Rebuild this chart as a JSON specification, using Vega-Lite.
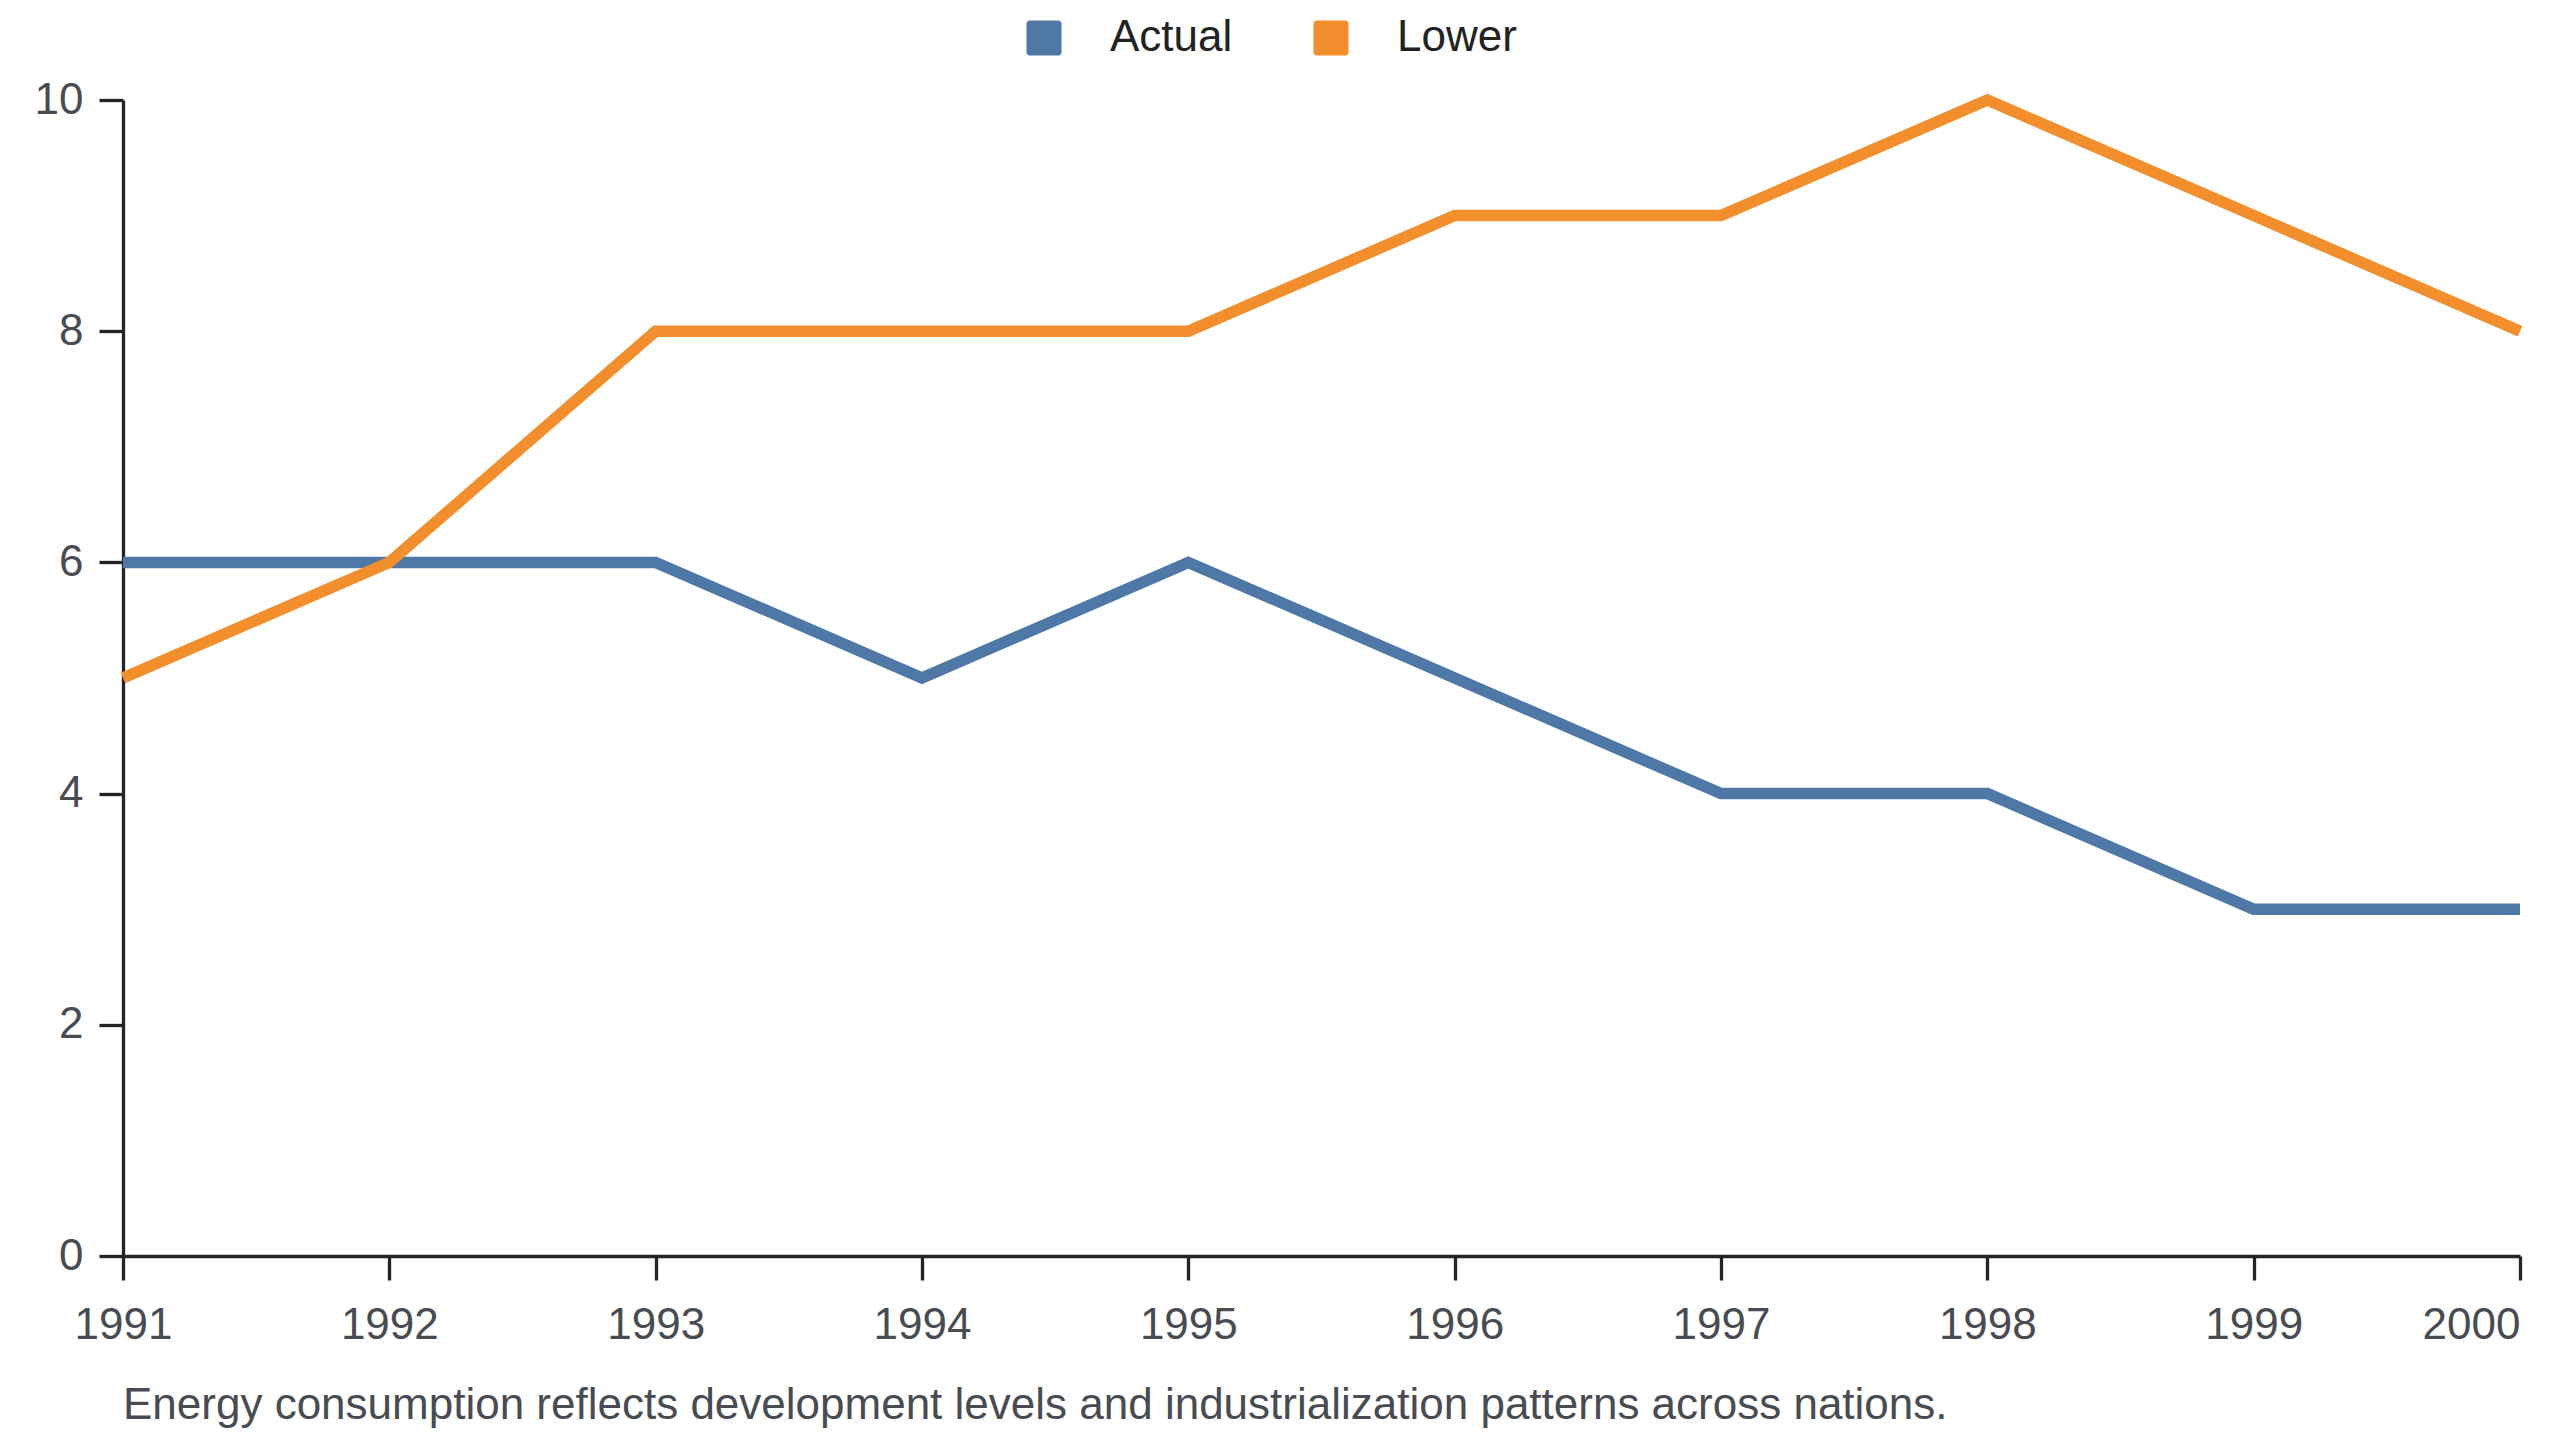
{
  "$schema": "https://vega.github.io/schema/vega-lite/v6.json",
  "width": 2397,
  "height": 1156,
  "autosize": {"type": "none"},
  "padding": {"left": 123, "top": 100, "right": 40, "bottom": 184},
  "background": "white",
  "title": {
    "text": "Energy consumption reflects development levels and industrialization patterns across nations.",
    "orient": "bottom",
    "anchor": "start",
    "frame": "group",
    "font": "Liberation Sans",
    "fontSize": 44,
    "fontWeight": "normal",
    "color": "#484c52",
    "offset": 37
  },
  "data": {
    "values": [
      {"year": 1991, "series": "Actual", "value": 6},
      {"year": 1992, "series": "Actual", "value": 6},
      {"year": 1993, "series": "Actual", "value": 6},
      {"year": 1994, "series": "Actual", "value": 5},
      {"year": 1995, "series": "Actual", "value": 6},
      {"year": 1996, "series": "Actual", "value": 5},
      {"year": 1997, "series": "Actual", "value": 4},
      {"year": 1998, "series": "Actual", "value": 4},
      {"year": 1999, "series": "Actual", "value": 3},
      {"year": 2000, "series": "Actual", "value": 3},
      {"year": 1991, "series": "Lower", "value": 5},
      {"year": 1992, "series": "Lower", "value": 6},
      {"year": 1993, "series": "Lower", "value": 8},
      {"year": 1994, "series": "Lower", "value": 8},
      {"year": 1995, "series": "Lower", "value": 8},
      {"year": 1996, "series": "Lower", "value": 9},
      {"year": 1997, "series": "Lower", "value": 9},
      {"year": 1998, "series": "Lower", "value": 10},
      {"year": 1999, "series": "Lower", "value": 9},
      {"year": 2000, "series": "Lower", "value": 8}
    ]
  },
  "mark": {"type": "line", "strokeWidth": 11.5, "strokeJoin": "miter", "strokeCap": "butt"},
  "encoding": {
    "x": {
      "field": "year",
      "type": "quantitative",
      "scale": {"domain": [1991, 2000], "nice": false, "zero": false},
      "axis": {
        "values": [1991, 1992, 1993, 1994, 1995, 1996, 1997, 1998, 1999, 2000],
        "format": "d",
        "title": null,
        "grid": false,
        "labelPadding": 23,
        "labelAlign": {"condition": {"test": "datum.value == 2000", "value": "right"}, "value": "center"}
      }
    },
    "y": {
      "field": "value",
      "type": "quantitative",
      "scale": {"domain": [0, 10], "nice": false},
      "axis": {
        "values": [0, 2, 4, 6, 8, 10],
        "title": null,
        "grid": false,
        "labelPadding": 16
      }
    },
    "color": {
      "field": "series",
      "type": "nominal",
      "scale": {"domain": ["Actual", "Lower"], "range": ["#4e79a7", "#f28e2b"]},
      "legend": {
        "title": null,
        "orient": "none",
        "direction": "horizontal",
        "legendX": 899,
        "legendY": -84,
        "padding": 0,
        "symbolType": "M-0.8,-1L0.8,-1Q1,-1,1,-0.8L1,0.8Q1,1,0.8,1L-0.8,1Q-1,1,-1,0.8L-1,-0.8Q-1,-1,-0.8,-1Z",
        "symbolSize": 1225,
        "symbolStrokeWidth": 0,
        "labelFont": "Liberation Sans",
        "labelFontSize": 44,
        "labelColor": "#222222",
        "labelOffset": 44,
        "columnPadding": 76,
        "encode": {
          "symbols": {
            "update": {
              "fill": {"scale": "color", "field": "value"},
              "strokeWidth": {"value": 0},
              "opacity": {"value": 1}
            }
          }
        }
      }
    }
  },
  "config": {
    "view": {"stroke": null},
    "axis": {
      "domainColor": "#222428",
      "domainWidth": 3.3,
      "tickColor": "#222428",
      "tickWidth": 3.3,
      "tickSize": 24,
      "labelFont": "Liberation Sans",
      "labelFontSize": 44,
      "labelColor": "#484c52",
      "labelOverlap": false,
      "labelBound": false,
      "labelFlush": false
    }
  }
}
